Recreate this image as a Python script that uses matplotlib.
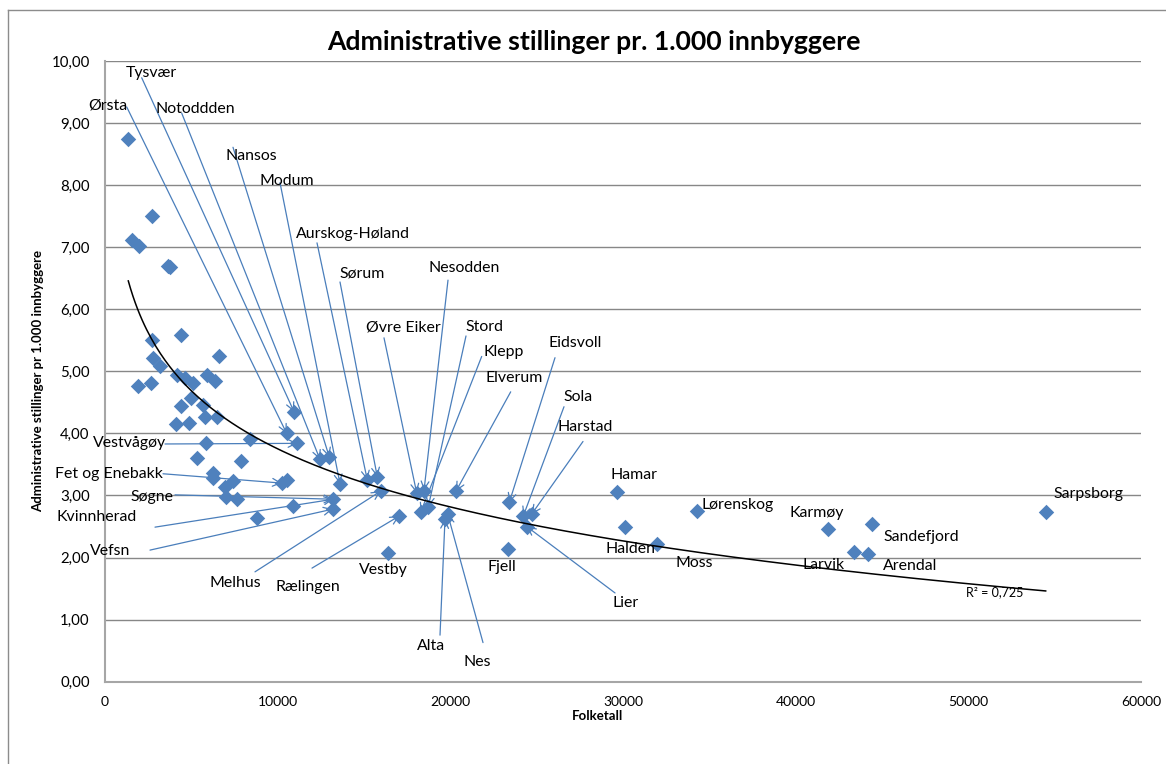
import matplotlib
matplotlib.use("Agg")
import matplotlib.pyplot as plt
from matplotlib.lines import Line2D
from matplotlib.ticker import FuncFormatter, MultipleLocator
import numpy as np

plt.rcParams["font.family"] = ["Lato", "DejaVu Sans"]

# Folketall and administrative stillinger per 1.000 innbyggere
folketall = [
    1349, 2705, 1546, 1986, 3666, 3764, 2705, 4402, 2763, 3185,
    1929, 2647, 6602, 4187, 4633, 5079, 5925, 6371, 4963, 4384,
    5658, 5791, 6504, 4112, 4882, 10946, 8398, 10523, 11137, 5849,
    5345, 7876, 12452, 12990, 6272, 6237, 7396, 6950, 10234, 10558,
    13610, 7008, 7627, 13222, 10905, 13187, 8820, 15191, 15770, 15967,
    17044, 16407, 18052, 18475, 20328, 18724, 18283, 19847, 19691, 23415,
    23357, 24226, 24712, 24423, 29635, 30116, 31986, 34303, 41855, 44421,
    43396, 44189, 54480,
]
stillinger = [
    8.74, 7.50, 7.12, 7.02, 6.69, 6.68, 5.51, 5.58, 5.21, 5.09,
    4.76, 4.82, 5.25, 4.94, 4.89, 4.82, 4.94, 4.85, 4.57, 4.44,
    4.46, 4.27, 4.26, 4.15, 4.17, 4.35, 3.91, 4.00, 3.84, 3.84,
    3.61, 3.56, 3.58, 3.62, 3.37, 3.28, 3.23, 3.14, 3.20, 3.25,
    3.19, 2.98, 2.94, 2.94, 2.83, 2.78, 2.63, 3.25, 3.30, 3.07,
    2.67, 2.08, 3.04, 3.08, 3.07, 2.82, 2.73, 2.70, 2.62, 2.89,
    2.13, 2.67, 2.70, 2.50, 3.06, 2.50, 2.22, 2.75, 2.46, 2.54,
    2.09, 2.05, 2.74,
]
kommune = [
    "", "", "", "", "", "", "", "", "", "",
    "", "", "", "", "", "", "", "", "", "",
    "", "", "", "", "", "Tysvær", "", "Ørsta", "Vestvågøy", "",
    "", "", "Notoddden", "Nansos", "", "", "", "", "Fet og Enebakk", "",
    "Modum", "", "", "Søgne", "", "Vefsn", "", "Aurskog-Høland", "Sørum", "Melhus",
    "Rælingen", "Vestby", "Øvre Eiker", "Nesodden", "Elverum", "Stord", "Klepp", "Nes", "Alta", "Eidsvoll",
    "Fjell", "Sola", "Harstad", "Lier", "Hamar", "Halden", "Moss", "Lørenskog", "Karmøy", "Sandefjord",
    "Larvik", "Arendal", "Sarpsborg",
]
# Kvinnherad points at the same marker as Søgne
pil_til = {"Kvinnherad": "Søgne"}

title = "Administrative stillinger pr. 1.000 innbyggere"
xlabel = "Folketall"
ylabel = "Administrative stillinger pr 1.000 innbyggere"
r2_text = "R² = 0,725"

# label placement: text (left, middle) and start of the callout line
tekst_pos = {
    "Tysvær": (1216, 9.80), "Ørsta": (-985, 9.29), "Notoddden": (2896, 9.22),
    "Nansos": (6950, 8.47), "Modum": (8919, 8.07), "Aurskog-Høland": (11062, 7.21),
    "Sørum": (13552, 6.57), "Nesodden": (18764, 6.67), "Øvre Eiker": (15116, 5.70),
    "Stord": (20849, 5.71), "Klepp": (21892, 5.31), "Eidsvoll": (25714, 5.46),
    "Elverum": (22008, 4.89), "Sola": (26525, 4.59), "Harstad": (26178, 4.10),
    "Hamar": (29305, 3.33), "Halden": (28958, 2.14), "Moss": (33069, 1.91),
    "Lørenskog": (34575, 2.85), "Karmøy": (39614, 2.72), "Larvik": (40367, 1.88),
    "Sandefjord": (45058, 2.33), "Arendal": (45058, 1.86), "Sarpsborg": (54904, 3.02),
    "Vestby": (14710, 1.80), "Fjell": (22124, 1.85), "Lier": (29363, 1.27),
    "Alta": (18069, 0.58), "Nes": (20734, 0.32), "Melhus": (6081, 1.59),
    "Rælingen": (9846, 1.53), "Vestvågøy": (-695, 3.85), "Fet og Enebakk": (-2896, 3.35),
    "Søgne": (1448, 2.98), "Kvinnherad": (-2780, 2.65), "Vefsn": (-869, 2.11),
}
pil_start = {
    "Tysvær": (2125, 9.73), "Ørsta": (1257, 9.26), "Notoddden": (4442, 9.16),
    "Nansos": (7413, 8.61), "Modum": (10135, 8.04), "Aurskog-Høland": (12278, 7.07),
    "Sørum": (13610, 6.44), "Nesodden": (19865, 6.47), "Øvre Eiker": (16158, 5.54),
    "Stord": (20907, 5.57), "Klepp": (21816, 5.24), "Elverum": (23496, 4.67),
    "Eidsvoll": (26062, 5.22), "Sola": (26583, 4.43), "Harstad": (27683, 3.87),
    "Lier": (29537, 1.43), "Alta": (19402, 0.75), "Nes": (21892, 0.63),
    "Melhus": (8687, 1.77), "Rælingen": (11988, 1.83), "Vestvågøy": (3475, 3.83),
    "Fet og Enebakk": (3359, 3.35), "Søgne": (4054, 3.01), "Kvinnherad": (2896, 2.49),
    "Vefsn": (2606, 2.12),
}

blue = "#4F81BD"
line_blue = "#4A7EBB"

x = np.array(folketall, dtype=float)
y = np.array(stillinger)

fig = plt.figure(figsize=(11.66, 7.64), dpi=100)
ax = fig.add_axes([105 / 1166, 1 - 681.7 / 764, 1036 / 1166, 620.7 / 764])

ax.scatter(x, y, marker="D", s=62, color=blue, zorder=3, linewidths=0)

# logarithmic trend line
b, a = np.polyfit(np.log(x), y, 1)
xt = np.linspace(x.min(), x.max(), 400)
ax.plot(xt, a + b * np.log(xt), color="black", lw=1.1, zorder=4)
ax.text(49865, 1.45, r2_text, fontsize=9, va="center", ha="left", zorder=5)

punkt = {k: (xi, yi) for k, xi, yi in zip(kommune, folketall, stillinger) if k}
for navn, (tx, ty) in tekst_pos.items():
    ax.text(tx, ty, navn, fontsize=11.4, va="center", ha="left", zorder=5, clip_on=False)
    if navn in pil_start:
        mål = punkt[pil_til.get(navn, navn)]
        ax.annotate("", xy=mål, xytext=pil_start[navn], annotation_clip=False,
                    arrowprops=dict(arrowstyle="->", color=line_blue, lw=0.9,
                                    shrinkA=0, shrinkB=0, mutation_scale=14),
                    zorder=2)

ax.set_xlim(0, 60000)
ax.set_ylim(0, 10)
ax.xaxis.set_major_locator(MultipleLocator(10000))
ax.yaxis.set_major_locator(MultipleLocator(1))
ax.yaxis.set_major_formatter(FuncFormatter(lambda v, p: f"{v:.2f}".replace(".", ",")))
ax.xaxis.set_major_formatter(FuncFormatter(lambda v, p: f"{v:.0f}"))
ax.tick_params(length=0)
ax.tick_params(axis="x", labelsize=10, pad=10)
ax.tick_params(axis="y", labelsize=10.8, pad=11)
ax.grid(axis="y", color="#878787", lw=1)
ax.set_axisbelow(True)
for s in ["top", "right"]:
    ax.spines[s].set_visible(False)
for s in ["left", "bottom"]:
    ax.spines[s].set_color("#A6A6A6")
    ax.spines[s].set_linewidth(1.5)

fig.text(594 / 1166, 1 - 42 / 764, title, fontsize=19.2, fontweight="bold", ha="center", va="center")
fig.text(598 / 1166, 1 - 716 / 764, xlabel, fontsize=9.5, fontweight="bold", ha="center", va="center")
fig.text(38 / 1166, 1 - 381 / 764, ylabel, fontsize=9.5, fontweight="bold", ha="center",
         va="center", rotation=90)

# chart frame
fig.add_artist(Line2D([8 / 1166, 8 / 1166], [0, 1 - 9.5 / 764], transform=fig.transFigure, color="#8C8C8C", lw=1))
fig.add_artist(Line2D([8 / 1166, 1], [1 - 9.5 / 764, 1 - 9.5 / 764], transform=fig.transFigure, color="#8C8C8C", lw=1))

fig.savefig("out.png", dpi=100)
